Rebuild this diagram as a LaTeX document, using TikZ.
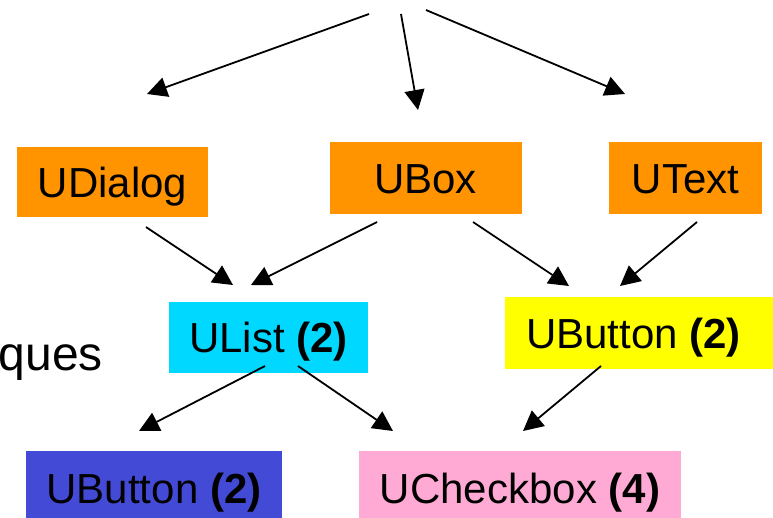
\documentclass[tikz,border=0pt]{standalone}
\usepackage{fontspec}
\setmainfont{Liberation Sans}
\usetikzlibrary{arrows.meta}
\definecolor{orangebox}{RGB}{255,148,0}
\definecolor{cyanbox}{RGB}{0,216,255}
\definecolor{yellowbox}{RGB}{255,255,0}
\definecolor{bluebox}{RGB}{67,75,214}
\definecolor{pinkbox}{RGB}{255,170,212}
\tikzset{
  box/.style={rectangle, inner sep=0pt, text height=30pt, text depth=0pt,
    font=\fontsize{42}{50}\selectfont, text=black},
  arr/.style={-{Triangle[length=20pt,width=20pt]}, line width=1.8pt, draw=black}
}
\begin{document}
\begin{tikzpicture}[x=1pt,y=-1pt]
\clip (0,0) rectangle (773,517);
\fill[white] (0,0) rectangle (773,517);

% boxes
\node[box, fill=orangebox, minimum width=191pt, minimum height=70pt] (udialog) at (112.5,182) {UDialog};
\node[box, fill=orangebox, minimum width=192pt, minimum height=72pt] (ubox) at (425.5,178) {UBox};
\node[box, fill=orangebox, minimum width=153pt, minimum height=72pt] (utext) at (685.5,178) {UText};
\node[box, fill=cyanbox, minimum width=199pt, minimum height=71pt] (ulist) at (268.5,337.5) {UList \textbf{(2)}};
\node[box, fill=yellowbox, minimum height=72pt, anchor=west] (ubuttony) at (505,333)
  {\hspace*{21pt}UButton \textbf{(2)}\hspace*{40pt}};
\node[box, fill=bluebox, minimum width=256pt, minimum height=74pt] (ubuttonb) at (154,488) {UButton \textbf{(2)}};
\node[box, fill=pinkbox, minimum width=322pt, minimum height=74pt] (ucheck) at (520,488) {UCheckbox \textbf{(4)}};

% partial text at left
\node[anchor=base east, inner sep=0pt, font=\fontsize{48}{56}\selectfont] (ques) at (103,370) {ques};

% arrow end points
\coordinate (t1s) at (369,14);  \coordinate (t1e) at (147,94);
\coordinate (t2s) at (401,14);  \coordinate (t2e) at (418,110);
\coordinate (t3s) at (426,10);  \coordinate (t3e) at (625,94);
\coordinate (a4s) at (146,227); \coordinate (a4e) at (233,285);
\coordinate (a5s) at (377,222); \coordinate (a5e) at (251,285);
\coordinate (a6s) at (473,222); \coordinate (a6e) at (569,286);
\coordinate (a7s) at (697,222); \coordinate (a7e) at (620,286);
\coordinate (a8s) at (265,366); \coordinate (a8e) at (139,431);
\coordinate (a9s) at (298,366); \coordinate (a9e) at (393,431);
\coordinate (a10s) at (601,366); \coordinate (a10e) at (523,431);

\draw[arr] (t1s) -- (t1e);
\draw[arr] (t2s) -- (t2e);
\draw[arr] (t3s) -- (t3e);
\draw[arr] (a4s) -- (a4e);
\draw[arr] (a5s) -- (a5e);
\draw[arr] (a6s) -- (a6e);
\draw[arr] (a7s) -- (a7e);
\draw[arr] (a8s) -- (a8e);
\draw[arr] (a9s) -- (a9e);
\draw[arr] (a10s) -- (a10e);
\end{tikzpicture}
\end{document}
